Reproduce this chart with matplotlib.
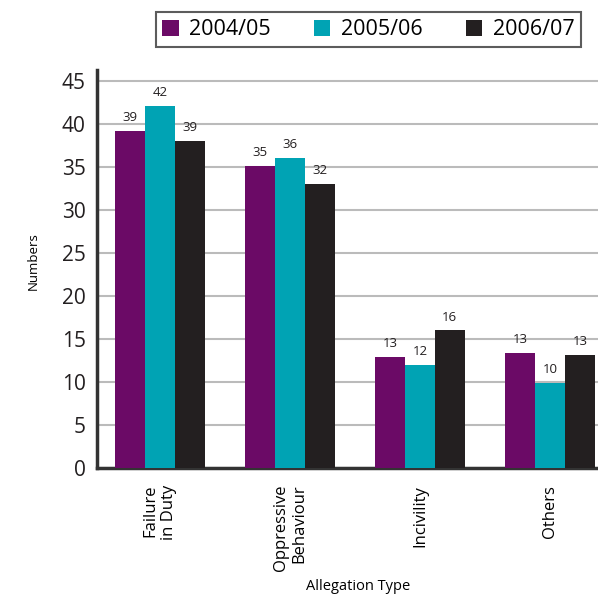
import numpy as np
import matplotlib.pyplot as plt

plt.rcParams['font.family'] = ['Open Sans', 'DejaVu Sans']

categories = ["Failure\nin Duty", "Oppressive\nBehaviour", "Incivility", "Others"]
years = ["2004/05", "2005/06", "2006/07"]
vals_0405 = [39.2, 35.1, 12.9, 13.4]
vals_0506 = [42.1, 36.1, 12.0, 9.9]
vals_0607 = [38.0, 33.0, 16.0, 13.2]
labels_0405 = ["39", "35", "13", "13"]
labels_0506 = ["42", "36", "12", "10"]
labels_0607 = ["39", "32", "16", "13"]
colors = ["#6B0A66", "#00A3B4", "#231F20"]

fig = plt.figure(figsize=(5.98, 5.95), dpi=100)
ax = fig.add_axes([0.162, 0.2134, 0.838, 0.669])

x = np.arange(len(categories))
w = 0.23
series = [vals_0405, vals_0506, vals_0607]
texts = [labels_0405, labels_0506, labels_0607]
for i, (vals, labs) in enumerate(zip(series, texts)):
    pos = x + (i - 1) * w
    ax.bar(pos, vals, width=w, color=colors[i], label=years[i], zorder=3)
    for p, v, t in zip(pos, vals, labs):
        ax.text(p, v + 0.8, t, ha="center", va="bottom", fontsize=9.5, color="#231F20")

ax.set_ylim(0, 46.3)
ax.set_xlim(-0.485, 3.37)
ax.set_yticks(range(0, 46, 5))
ax.yaxis.grid(True, color="#BBBBBB", linewidth=1.5, zorder=0)
ax.set_axisbelow(True)
ax.tick_params(axis="y", length=0, labelsize=15, pad=8, labelcolor="#231F20")
ax.set_xticks(x)
ax.set_xticklabels(categories, rotation=90, ha="center", va="top",
                   multialignment="right", fontsize=12)
ax.tick_params(axis="x", length=0, pad=12)

for s in ["top", "right"]:
    ax.spines[s].set_visible(False)
for s in ["left", "bottom"]:
    ax.spines[s].set_linewidth(2.5)
    ax.spines[s].set_color("#333333")

ax.set_ylabel("Numbers", fontsize=9.5)
ax.yaxis.set_label_coords(-0.113, 0.52)
fig.text(0.599, 0.014, "Allegation Type", ha="center", va="center", fontsize=10.5)

leg = fig.legend(loc="center", bbox_to_anchor=(0.616, 0.95), ncol=3,
                 fontsize=15.5, frameon=True, fancybox=False, edgecolor="#333333",
                 handlelength=0.75, handleheight=0.75, handletextpad=0.5,
                 columnspacing=2.0, borderpad=0.32, borderaxespad=0)
leg.get_frame().set_linewidth(1.5)

fig.savefig("out.png", dpi=100)
